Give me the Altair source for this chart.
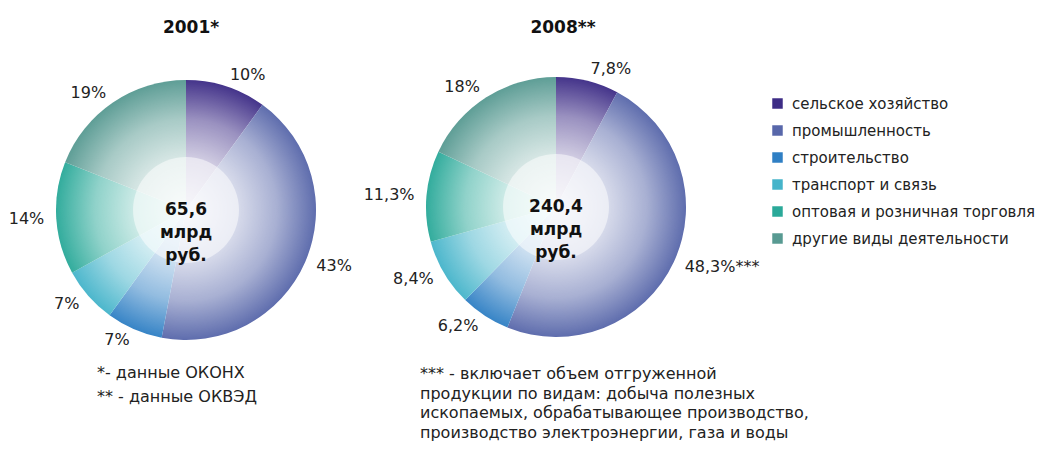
import math
import altair as alt
import pandas as pd

# ---------------- data ----------------
categories = [
    "сельское хозяйство",
    "промышленность",
    "строительство",
    "транспорт и связь",
    "оптовая и розничная торговля",
    "другие виды деятельности",
]
colors = ["#3d2c86", "#5867aa", "#2f7fc4", "#45b4ca", "#2aa999", "#589a92"]

years = ["2001", "2008"]
values_2001 = [10, 43, 7, 7, 14, 19]
values_2008 = [7.8, 48.3, 6.2, 8.4, 11.3, 18.0]
labels_2001 = ["10%", "43%", "7%", "7%", "14%", "19%"]
labels_2008 = ["7,8%", "48,3%***", "6,2%", "8,4%", "11,3%", "18%"]
titles = ["2001*", "2008**"]
totals = ["65,6\nмлрд\nруб.", "240,4\nмлрд\nруб."]
footnote_left = ["*- данные ОКОНХ", "** - данные ОКВЭД"]
footnote_right = [
    "*** - включает объем отгруженной",
    "продукции по видам: добыча полезных",
    "ископаемых, обрабатывающее производство,",
    "производство электроэнергии, газа и воды",
]

rows = []
for year, vals, labs in [("2001", values_2001, labels_2001), ("2008", values_2008, labels_2008)]:
    for i, (c, v, l) in enumerate(zip(categories, vals, labs)):
        rows.append({"year": year, "cat": c, "idx": i, "value": v, "label": l})
df = pd.DataFrame(rows)

# ---------------- layout / style ----------------
FONT = "DejaVu Sans"
W, H = 1037, 433
centers = {"2001": (178, 202), "2008": (548, 199)}
title_x = {"2001": 183, "2008": 555}
R_OUT, R_IN, R_LAB = 130, 53, 142
TWO_PI = 2 * math.pi

theta_scale = alt.Scale(domain=[0, 100], range=[0, TWO_PI])
color_scale = alt.Scale(domain=categories, range=colors)
legend = alt.Legend(
    title=None, orient="none", legendX=762, legendY=88,
    symbolType="square", symbolSize=110, symbolStrokeWidth=0,
    labelFontSize=15, labelFont=FONT, labelColor="#222",
    labelLimit=400, rowPadding=11, padding=0, labelOffset=7,
)

glow = alt.RadialGradient(
    gradient="radial", x1=0.5, y1=0.5, r1=0, x2=0.5, y2=0.5, r2=0.5,
    stops=[
        alt.GradientStop(offset=0, color="rgba(255,255,255,0.92)"),
        alt.GradientStop(offset=0.4, color="rgba(255,255,255,0.76)"),
        alt.GradientStop(offset=0.7, color="rgba(255,255,255,0.48)"),
        alt.GradientStop(offset=1, color="rgba(255,255,255,0.04)"),
    ],
)

layers = []
for k, year in enumerate(years):
    cx, cy = centers[year]
    base = alt.Chart(df).transform_filter(alt.datum.year == year)

    arcs = base.mark_arc(outerRadius=R_OUT).encode(
        x=alt.value(cx), y=alt.value(cy),
        theta=alt.Theta("value:Q", stack=True, scale=theta_scale),
        color=alt.Color("cat:N", scale=color_scale, legend=legend),
        order=alt.Order("idx:Q"),
    )
    shade = alt.Chart(alt.Data(values=[{"k": 1}])).mark_arc(
        outerRadius=R_OUT, theta=0, theta2=TWO_PI, fill=glow
    ).encode(x=alt.value(cx), y=alt.value(cy))
    disc = alt.Chart(alt.Data(values=[{"k": 1}])).mark_arc(
        outerRadius=R_IN, theta=0, theta2=TWO_PI, fill="white", fillOpacity=0.5
    ).encode(x=alt.value(cx), y=alt.value(cy))
    center_txt = alt.Chart(alt.Data(values=[{"t": totals[k]}])).mark_text(
        font=FONT, fontSize=17, fontWeight="bold", lineBreak="\n", lineHeight=23,
        color="#111", baseline="middle", align="center",
    ).encode(x=alt.value(cx), y=alt.value(cy), text="t:N")
    title_txt = alt.Chart(alt.Data(values=[{"t": titles[k]}])).mark_text(
        font=FONT, fontSize=17, fontWeight="bold", color="#111",
    ).encode(x=alt.value(title_x[year]), y=alt.value(20), text="t:N")

    lab = base.transform_window(
        cum="sum(value)", sort=[alt.SortField("idx")], frame=[None, 0]
    ).transform_calculate(mid="datum.cum - datum.value / 2")
    lab_right = lab.transform_filter("datum.mid < 48").mark_text(
        align="left", baseline="middle", radius=R_LAB, font=FONT, fontSize=16, color="#222"
    ).encode(
        x=alt.value(cx), y=alt.value(cy),
        theta=alt.Theta("mid:Q", stack=False, scale=theta_scale), text="label:N",
    )
    lab_left = lab.transform_filter("datum.mid >= 48").mark_text(
        align="right", baseline="middle", radius=R_LAB, font=FONT, fontSize=16, color="#222"
    ).encode(
        x=alt.value(cx), y=alt.value(cy),
        theta=alt.Theta("mid:Q", stack=False, scale=theta_scale), text="label:N",
    )
    layers += [arcs, shade, disc, center_txt, title_txt, lab_right, lab_left]

fl = pd.DataFrame({"t": footnote_left, "i": range(len(footnote_left))})
fr = pd.DataFrame({"t": footnote_right, "i": range(len(footnote_right))})
foot_l = alt.Chart(fl).mark_text(
    font=FONT, fontSize=16, align="left", baseline="middle", color="#222"
).encode(
    x=alt.value(89),
    y=alt.Y("i:Q", scale=alt.Scale(domain=[0, 1], range=[365, 389]), axis=None),
    text="t:N",
)
foot_r = alt.Chart(fr).mark_text(
    font=FONT, fontSize=16, align="left", baseline="middle", color="#222"
).encode(
    x=alt.value(412),
    y=alt.Y("i:Q", scale=alt.Scale(domain=[0, 3], range=[366, 425]), axis=None),
    text="t:N",
)

chart = alt.layer(*layers, foot_l, foot_r).resolve_scale(y="independent").properties(
    width=W, height=H, autosize=alt.AutoSizeParams(type="none"), padding=0,
    background="white",
).configure_view(strokeWidth=0)

chart.save("out.html", embed_options={"renderer": "svg", "actions": False})
